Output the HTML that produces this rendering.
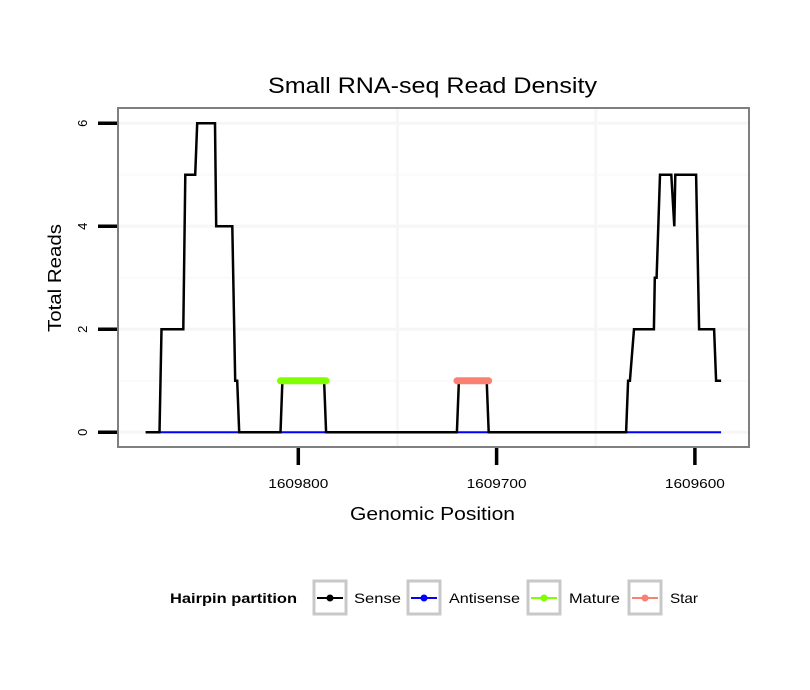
<!DOCTYPE html>
<html><head><meta charset="utf-8"><style>
body{margin:0;background:#fff}
svg{display:block;font-family:"Liberation Sans",sans-serif}
</style></head><body>
<svg id="chart" width="810" height="690" viewBox="0 0 810 690">
<rect x="0" y="0" width="810" height="690" fill="#fff"/>
<text x="268" y="93" font-size="22" textLength="329" lengthAdjust="spacingAndGlyphs">Small RNA-seq Read Density</text>
<g id="grid"></g>
<g id="marks"></g>
<rect x="118" y="108" width="631" height="339" fill="none" stroke="#7f7f7f" stroke-width="2"/>
<g id="axes"></g>
<text x="350" y="520" font-size="18" textLength="165" lengthAdjust="spacingAndGlyphs">Genomic Position</text>
<text transform="translate(61,278) rotate(-90)" font-size="18" text-anchor="middle" textLength="108" lengthAdjust="spacingAndGlyphs">Total Reads</text>
<g>
<text x="170" y="603" font-size="14" font-weight="bold" textLength="127" lengthAdjust="spacingAndGlyphs">Hairpin partition</text>
<g>
<rect x="314" y="581" width="32" height="33" fill="#fff" stroke="#c8c8c8" stroke-width="3"/>
<line x1="317" y1="598" x2="343" y2="598" stroke="#000" stroke-width="2"/><circle cx="330" cy="598" r="3.5" fill="#000"/>
<text x="354" y="603" font-size="14" textLength="47" lengthAdjust="spacingAndGlyphs">Sense</text></g>
<g>
<rect x="408" y="581" width="32" height="33" fill="#fff" stroke="#c8c8c8" stroke-width="3"/>
<line x1="411" y1="598" x2="437" y2="598" stroke="#0000ff" stroke-width="2"/><circle cx="424" cy="598" r="3.5" fill="#0000ff"/>
<text x="449" y="603" font-size="14" textLength="71" lengthAdjust="spacingAndGlyphs">Antisense</text></g>
<g>
<rect x="528" y="581" width="32" height="33" fill="#fff" stroke="#c8c8c8" stroke-width="3"/>
<line x1="531" y1="598" x2="557" y2="598" stroke="#7fff00" stroke-width="2"/><circle cx="544" cy="598" r="3.5" fill="#7fff00"/>
<text x="569" y="603" font-size="14" textLength="51" lengthAdjust="spacingAndGlyphs">Mature</text></g>
<g>
<rect x="629" y="581" width="32" height="33" fill="#fff" stroke="#c8c8c8" stroke-width="3"/>
<line x1="632" y1="598" x2="658" y2="598" stroke="#fa8072" stroke-width="2"/><circle cx="645" cy="598" r="3.5" fill="#fa8072"/>
<text x="670" y="603" font-size="14" textLength="28" lengthAdjust="spacingAndGlyphs">Star</text></g>
</g>
</svg>
<script>
const sensePos = [1609877,1609870,1609869,1609858,1609857,1609852,1609851,1609842,1609841.4,1609833.3,1609831.8,1609830.8,1609829.8,1609809,1609808,1609787,1609786,1609720,1609719,1609705,1609704,1609634.7,1609633.7,1609632.8,1609630.7,1609620.7,1609620.2,1609619.3,1609617.6,1609611.9,1609610.4,1609609.9,1609599.4,1609597.9,1609590.3,1609589.3,1609586.8];
const senseVals = [0,0,2,2,5,5,6,6,4,4,1,1,0,0,1,1,0,0,1,1,0,0,1,1,2,2,3,3,5,5,4,5,5,2,2,1,1];
const antisenseRange = [1609870,1609586.8];
const antisenseVal = [0,0];
const matureRange = [1609809,1609786];
const matureVal = [1,1];
const starRange = [1609720,1609704];
const starVal = [1,1];
const xTicks = [1609800,1609700,1609600];
const xTickLabels = ["1609800","1609700","1609600"];
const xMinor = [1609750,1609650];
const yTicks = [0,2,4,6];
const yMinor = [1,3,5];

const NS = "http://www.w3.org/2000/svg";
function X(p){return 298.3 + (1609800 - p) * 1.983;}
function Y(v){return 432.3 - v * 51.5;}
function mk(tag, attrs, parent){const e=document.createElementNS(NS,tag);for(const k in attrs)e.setAttribute(k,attrs[k]);parent.appendChild(e);return e;}
const grid=document.getElementById('grid'), marks=document.getElementById('marks'), axes=document.getElementById('axes');

yMinor.forEach(v=>{const l=mk('line',{x1:119,x2:748,y1:Y(v),y2:Y(v),stroke:'#fafafa','stroke-width':2},grid);

});
yTicks.forEach(v=>{const l=mk('line',{x1:119,x2:748,y1:Y(v),y2:Y(v),stroke:'#f6f6f6','stroke-width':3},grid);

});
xMinor.forEach(p=>{const l=mk('line',{x1:X(p),x2:X(p),y1:109,y2:446,stroke:'#f6f6f6','stroke-width':3},grid);

});

const ax=mk('line',{x1:X(antisenseRange[0]),x2:X(antisenseRange[1]),y1:Y(antisenseVal[0]),y2:Y(antisenseVal[1]),stroke:'#0000ff','stroke-width':2},marks);



const pts=sensePos.map((p,i)=>X(p).toFixed(1)+','+Y(senseVals[i]).toFixed(1)).join(' ');
const sl=mk('polyline',{points:pts,fill:'none',stroke:'#000','stroke-width':2.5,'stroke-linejoin':'miter'},marks);



const mt=mk('line',{x1:X(matureRange[0]),x2:X(matureRange[1]),y1:Y(matureVal[0]),y2:Y(matureVal[1]),stroke:'#7fff00','stroke-width':7,'stroke-linecap':'round'},marks);


const st=mk('line',{x1:X(starRange[0]),x2:X(starRange[1]),y1:Y(starVal[0]),y2:Y(starVal[1]),stroke:'#fa8072','stroke-width':7,'stroke-linecap':'round'},marks);



xTicks.forEach((p,i)=>{
const t=mk('line',{x1:X(p),x2:X(p),y1:448,y2:465,stroke:'#000','stroke-width':3.5},axes);


const tx=mk('text',{x:X(p)-30,y:488,'font-size':13,textLength:60,lengthAdjust:'spacingAndGlyphs'},axes);
tx.textContent=xTickLabels[i];


});
yTicks.forEach(v=>{
const t=mk('line',{x1:98,x2:117,y1:Y(v),y2:Y(v),stroke:'#000','stroke-width':3.5},axes);


const tx=mk('text',{transform:`translate(87,${Y(v)}) rotate(-90)`,'font-size':13,'text-anchor':'middle'},axes);
tx.textContent=String(v);


});
</script>
</body></html>
